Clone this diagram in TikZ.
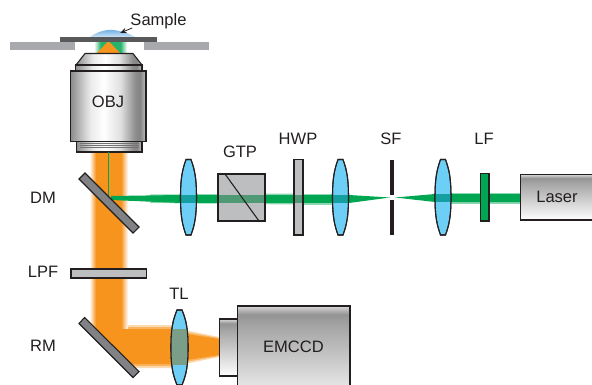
\documentclass[tikz,border=0pt]{standalone}
\usepackage{fontspec}
\setmainfont{Liberation Sans}
\usetikzlibrary{arrows.meta}
\definecolor{ink}{HTML}{231F20}
\definecolor{beamO}{HTML}{F7941D}
\definecolor{beamG}{HTML}{00A651}
\definecolor{lensB}{HTML}{6DCFF6}
\definecolor{plate}{HTML}{BCBEC0}
\definecolor{mirror}{HTML}{808285}
\definecolor{stagebar}{HTML}{A7A9AC}
\definecolor{slip}{HTML}{58595B}
\definecolor{lensG}{HTML}{14A0A0}
\definecolor{lensO}{HTML}{7A9E87}
\definecolor{plateG}{HTML}{4F9A75}
\definecolor{domeB}{HTML}{6FB0E4}
\pgfdeclarehorizontalshading{fadeGreen}{100bp}{color(0bp)=(white);color(25bp)=(white);color(35bp)=(beamG!85);color(65bp)=(beamG!85);color(75bp)=(white);color(100bp)=(white)}
\pgfdeclarehorizontalshading{metalH}{100bp}{color(0bp)=(black!45);color(25bp)=(black!45);color(38bp)=(black!8);color(47bp)=(white);color(58bp)=(black!12);color(68bp)=(black!45);color(71bp)=(black!48);color(75bp)=(black!25);color(100bp)=(black!25)}
\pgfdeclareverticalshading{metalV}{100bp}{color(0bp)=(white);color(25bp)=(white);color(65bp)=(black!35);color(71bp)=(black!42);color(75bp)=(black!15);color(100bp)=(black!15)}
\tikzset{
  outl/.style={draw=ink,line width=.8pt,line join=miter},
  lbl/.style={font=\fontsize{12.4pt}{14pt}\selectfont,text=ink,inner sep=0pt},
  flatpart/.style={outl,fill=plate},
  mirrorbar/.style={outl,fill=mirror},
}
% lens: centre x, half width, top y, bottom y
\newcommand{\lenspath}[4]{({#1-2.5},#3) .. controls ({#1-#2+2},{#3+10}) and ({#1-#2},{(#3+#4)/2-20}) .. ({#1-#2},{(#3+#4)/2}) .. controls ({#1-#2},{(#3+#4)/2+20}) and ({#1-#2+2},{#4-10}) .. ({#1-2.5},#4) -- ({#1+2.5},#4) .. controls ({#1+#2-2},{#4-10}) and ({#1+#2},{(#3+#4)/2+20}) .. ({#1+#2},{(#3+#4)/2}) .. controls ({#1+#2},{(#3+#4)/2-20}) and ({#1+#2-2},{#3+10}) .. ({#1+2.5},#3) -- cycle}
\begin{document}
\begin{tikzpicture}[x=.75pt,y=-.75pt]
\clip (0,0) rectangle (592,385);
\useasboundingbox (0,0) rectangle (592,385);
% orange beams
\fill[beamO!35] (127,325) -- (180,325) -- (180,329) -- (219,337) -- (219,357) -- (180,365) -- (180,368) -- (127,368) -- cycle;
\fill[beamO!70] (127,327) -- (180,327) -- (180,331) -- (219,338) -- (219,356) -- (180,363) -- (180,366) -- (127,366) -- cycle;
\shade[left color=white,right color=beamO] (89.5,152) rectangle (96,329.5);
\fill[beamO] (95.8,152) rectangle (121.2,329.5);
\shade[left color=beamO,right color=white] (121,152) rectangle (128,329.5);
\fill[beamO] (92,329) -- (180,329) -- (180,333) -- (219,339) -- (219,355) -- (180,361) -- (180,364) -- (127,364) -- cycle;
% sample region
\shade[shading=fadeGreen] (94,42) rectangle (127,53);
\fill[beamO] (108.5,41) -- (120,53) -- (97,53) -- cycle;
\shade[top color=domeB,bottom color=domeB!35] (90,37) .. controls (98,31) and (107,29.5) .. (113,30) .. controls (122,31) and (130,34) .. (135,37) -- cycle;
% stage
\fill[stagebar] (10,42) rectangle (75,50);
\fill[stagebar] (144,42) rectangle (209,50);
\fill[slip] (60,37) rectangle (157,42);
% objective
\shade[shading=metalH,draw=ink,line width=.8pt] (76,65) -- (85,53.5) -- (133,53.5) -- (142,65) -- cycle;
\shade[shading=metalH,draw=ink,line width=.8pt] (75.5,65) rectangle (142,71);
\shade[shading=metalH,draw=ink,line width=.8pt] (70.5,71) rectangle (146,141.5);
\shade[shading=metalH,draw=ink,line width=.8pt] (76.5,141.5) rectangle (142,152);
\foreach \yy in {143.5,145.5,147.5}{\draw[black!55,line width=.4pt] (80,\yy) -- (139,\yy);}
% excitation beam
\fill[beamG!45] (150,194.5) -- (294,193.5) -- (294,204.5) -- (150,203) -- cycle;
\fill[beamG!45] (303,193.5) rectangle (349,204.5);
\fill[beamG!45] (451,192.5) rectangle (520,203.5);
\fill[beamG] (111,196) -- (181,195) -- (181,203) -- (111,200) -- cycle;
\fill[beamG] (181,195) rectangle (294,203);
\fill[beamG] (303,195) rectangle (332,203);
\fill[beamG] (332,195) -- (349,195) -- (390,197.5) -- (349,203) -- (332,203) -- cycle;
\fill[beamG] (395,197.5) -- (435,194) -- (451,194) -- (520,194) -- (520,202) -- (451,202) -- (435,202) -- cycle;
\draw[beamG,line width=.7pt] (108,152) -- (108,197);
% dichroic mirror
\path[mirrorbar] (85,173) -- (79,179) -- (133,233) -- (139,227) -- cycle;
% lenses
\foreach \cx in {188.5,340.5,443}{
  \path[outl,fill=lensB] \lenspath{\cx}{8}{159.5}{235};
}
\begin{scope}
  \clip \lenspath{188.5}{8}{159.5}{235};
  \fill[lensG] (180,195) rectangle (197,203);
\end{scope}
\begin{scope}
  \clip \lenspath{340.5}{8}{159.5}{235};
  \fill[lensG] (331,195) rectangle (350,203);
\end{scope}
\begin{scope}
  \clip \lenspath{443}{8}{159.5}{235};
  \fill[lensG] (434,194) rectangle (452,202);
\end{scope}
\foreach \cx in {188.5,340.5,443}{
  \path[draw=ink,line width=.8pt] \lenspath{\cx}{8}{159.5}{235};
}
% GTP
\path[outl,fill=plate] (218,174) rectangle (265,221);
\fill[plateG] (218.5,195) rectangle (264.5,203);
\draw[ink,line width=.8pt] (225,174) -- (259,221);
\path[outl] (218,174) rectangle (265,221);
% HWP
\path[flatpart] (294,159.5) rectangle (303,235);
\fill[plateG] (294.5,195) rectangle (302.5,203);
\path[outl] (294,159.5) rectangle (303,235);
% SF
\fill[ink] (390,160) rectangle (394,195);
\fill[ink] (390,199.5) rectangle (394,235);
% LF
\path[outl,fill=beamG] (480.5,173.5) rectangle (489,221);
% Laser
\shade[shading=metalV,draw=ink,line width=.8pt] (520.5,174.5) rectangle (600,220);
% LPF
\path[flatpart] (71,269) rectangle (146.5,278);
% RM
\path[mirrorbar] (84.5,317.5) -- (79,323.5) -- (133,377.5) -- (139,371.5) -- cycle;
% tube lens
\path[outl,fill=lensB] \lenspath{179.5}{8.5}{310}{385};
\begin{scope}
  \clip \lenspath{179.5}{8.5}{310}{385};
  \fill[lensO] (170,329) rectangle (189,365);
\end{scope}
\path[draw=ink,line width=.8pt] \lenspath{179.5}{8.5}{310}{385};
% EMCCD
\shade[shading=metalV,draw=ink,line width=.8pt] (219.5,319) rectangle (237.5,376);
\shade[shading=metalV,draw=ink,line width=.8pt] (237.5,306) rectangle (350,410);
% labels
\node[lbl] (obj) at (108,102) {OBJ};
\node[lbl] (laser) at (557,197) {Laser};
\node[lbl] (emccd) at (293.5,347) {EMCCD};
\node[lbl] (dm) at (43,198) {DM};
\node[lbl] (lpf) at (43,272) {LPF};
\node[lbl] (rm) at (43,346) {RM};
\node[lbl] (tl) at (179,294) {TL};
\node[lbl] (gtp) at (240,152) {GTP};
\node[lbl] (hwp) at (298,139) {HWP};
\node[lbl] (sf) at (391,139) {SF};
\node[lbl] (lf) at (484,139) {LF};
\node[lbl] (sample) at (158.5,21) {Sample};
\coordinate (dome) at (120,33);
\draw[ink,line width=.6pt,-{Stealth[length=5pt,width=4pt]}] (sample.south west) ++(2,-1) -- (dome);
\end{tikzpicture}
\end{document}
